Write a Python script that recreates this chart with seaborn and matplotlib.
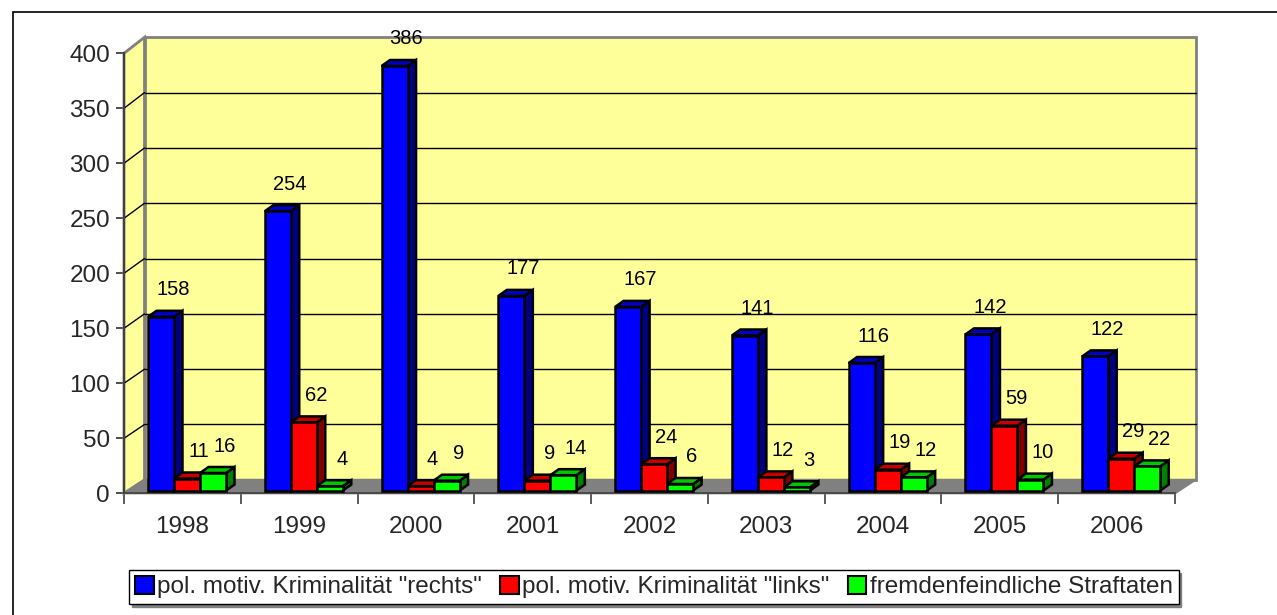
import numpy as np
import pandas as pd
import matplotlib
matplotlib.use("Agg")
import matplotlib.pyplot as plt
import seaborn as sns
from matplotlib.patches import Polygon, Rectangle, Patch
from matplotlib.lines import Line2D
from matplotlib.colors import to_rgb

# ---------------- data ----------------
years = ["1998", "1999", "2000", "2001", "2002", "2003", "2004", "2005", "2006"]
rechts = [158, 254, 386, 177, 167, 141, 116, 142, 122]
links = [11, 62, 4, 9, 24, 12, 19, 59, 29]
fremd = [16, 4, 9, 14, 6, 3, 12, 10, 22]
series_names = ['pol. motiv. Kriminalität "rechts"',
                'pol. motiv. Kriminalität "links"',
                'fremdenfeindliche Straftaten']
colors = ["#0000FF", "#FF0000", "#00FF00"]
y_ticks = [0, 50, 100, 150, 200, 250, 300, 350, 400]

df = pd.DataFrame({
    "Jahr": years * 3,
    "Serie": [s for s in series_names for _ in years],
    "Wert": rechts + links + fremd,
})

# ---------------- figure ----------------
W, H = 1277, 615
sns.set_style("white")
plt.rcParams['font.family'] = ['Liberation Sans', 'DejaVu Sans']

fig = plt.figure(figsize=(W / 100, H / 100), dpi=100)
L, R, B, T = 124, 1175, 493.3, 53.3
ax = fig.add_axes([L / W, 1 - B / H, (R - L) / W, (B - T) / H])
ax.set_facecolor("none")

sns.barplot(data=df, x="Jahr", y="Wert", hue="Serie", order=years,
            hue_order=series_names, palette=colors, width=0.668,
            saturation=1, edgecolor="black", linewidth=1.8, ax=ax,
            legend=False)

ax.set_xlim(-0.5, 8.5)
ax.set_ylim(0, 400)

ux = (R - L) / 9.0      # px per x unit
uy = (B - T) / 400.0    # px per y unit

# 3D wall offsets
dxw = 20.5 / ux
dyb = 13.5 / uy
dyt = 16.0 / uy
def off(v):
    return dyb + (dyt - dyb) * v / 400.0

wall_col = "#FFFF99"
edge_gray = "#808080"
x0w, x1w = -0.5, 8.5

# back wall
ax.add_patch(Polygon([(x0w + dxw, off(0)), (x0w + dxw, 400 + off(400)),
                      (x1w + dxw, 400 + off(400)), (x1w + dxw, off(0))],
                     closed=True, facecolor=wall_col, edgecolor=edge_gray,
                     lw=2, clip_on=False, zorder=0.5))
# side wall
ax.add_patch(Polygon([(x0w, 0), (x0w + dxw, off(0)), (x0w + dxw, 400 + off(400)),
                      (x0w, 400)],
                     closed=True, facecolor=wall_col, edgecolor=edge_gray,
                     lw=2, clip_on=False, zorder=0.6))
# floor
ax.add_patch(Polygon([(x0w, 0), (x1w, 0), (x1w + dxw, off(0)), (x0w + dxw, off(0))],
                     closed=True, facecolor="#808080", edgecolor=edge_gray,
                     lw=1.5, clip_on=False, zorder=0.7))
# gridlines on back wall and side wall
for v in y_ticks[1:-1]:
    ax.add_line(Line2D([x0w + dxw, x1w + dxw], [v + off(v), v + off(v)],
                       color="black", lw=1.0, clip_on=False, zorder=0.8))
    ax.add_line(Line2D([x0w, x0w + dxw], [v, v + off(v)],
                       color="black", lw=1.0, clip_on=False, zorder=0.8))

# 3D bars
sx = 4.6 / ux
sy = 2.7 / uy
bdx = 8.5 / ux
bdy = 6.0 / uy

def shade(c, f):
    r, g, b = to_rgb(c)
    return (r * f, g * f, b * f)

for i, cont in enumerate(ax.containers):
    base = 3 + 2 * i
    for j, p in enumerate(cont.patches):
        x0 = p.get_x() + sx
        w = p.get_width()
        h = p.get_height()
        p.set_x(x0)
        p.set_y(sy)
        p.set_zorder(base + 1)
        p.set_clip_on(False)
        top = sy + h
        col = colors[i]
        side = Polygon([(x0 + w, sy), (x0 + w + bdx, sy + bdy),
                        (x0 + w + bdx, top + bdy), (x0 + w, top)],
                       closed=True, facecolor=shade(col, 0.5),
                       edgecolor="black", lw=1.8, joinstyle="miter",
                       clip_on=False, zorder=base)
        topf = Polygon([(x0, top), (x0 + w, top), (x0 + w + bdx, top + bdy),
                        (x0 + bdx, top + bdy)],
                       closed=True, facecolor=shade(col, 0.78),
                       edgecolor="black", lw=1.8, joinstyle="miter",
                       clip_on=False, zorder=base)
        ax.add_patch(side)
        ax.add_patch(topf)
        ax.text(x0 + w / 2 + 12 / ux, top + 27 / uy, str(int(round(h))),
                ha="center", va="center", fontsize=14.5, color="black",
                clip_on=False, zorder=30)

# axes styling
for s in ["top", "right"]:
    ax.spines[s].set_visible(False)
ax.spines["left"].set_color("#404040")
ax.spines["left"].set_linewidth(1.5)
ax.spines["bottom"].set_color("#404040")
ax.spines["bottom"].set_linewidth(1.2)
ax.spines["left"].set_zorder(1)
ax.spines["bottom"].set_zorder(1)

ax.set_yticks(y_ticks)
ax.set_yticklabels([str(v) for v in y_ticks])
ax.tick_params(axis="y", which="major", length=6, width=1.3, color="#404040",
               pad=4, labelsize=17.5, direction="out", left=True)

ax.set_xticks(np.arange(-0.5, 9.0, 1.0))
ax.set_xticklabels([""] * 10)
ax.set_xticks(np.arange(len(years)), minor=True)
ax.set_xticklabels(years, minor=True)
ax.tick_params(axis="x", which="major", length=8, width=1.2, color="#404040",
               direction="out", bottom=True)
ax.tick_params(axis="x", which="minor", length=0, pad=16, labelsize=17.5)
ax.set_xlabel("")
ax.set_ylabel("")
ax.grid(False)

# legend
handles = [Patch(facecolor=c, edgecolor="black", lw=1.5) for c in colors]
leg = fig.legend(handles, series_names, loc="center",
                 bbox_to_anchor=(654 / W, 1 - 587 / H), ncol=3,
                 frameon=True, fancybox=False, edgecolor="black",
                 shadow={"color": "#808080", "alpha": 1.0},
                 fontsize=17.5, handlelength=0.75, handleheight=0.75,
                 handletextpad=0.15, columnspacing=0.75, borderpad=0.25,
                 borderaxespad=0)
leg.get_frame().set_linewidth(1.0)

# outer chart border (top and left visible)
fig.add_artist(Rectangle((13 / W, -0.1), 1.2, 1.1 - 12 / H,
                         transform=fig.transFigure, facecolor="none",
                         edgecolor="black", lw=1.2))

fig.savefig("out.png", dpi=100)
